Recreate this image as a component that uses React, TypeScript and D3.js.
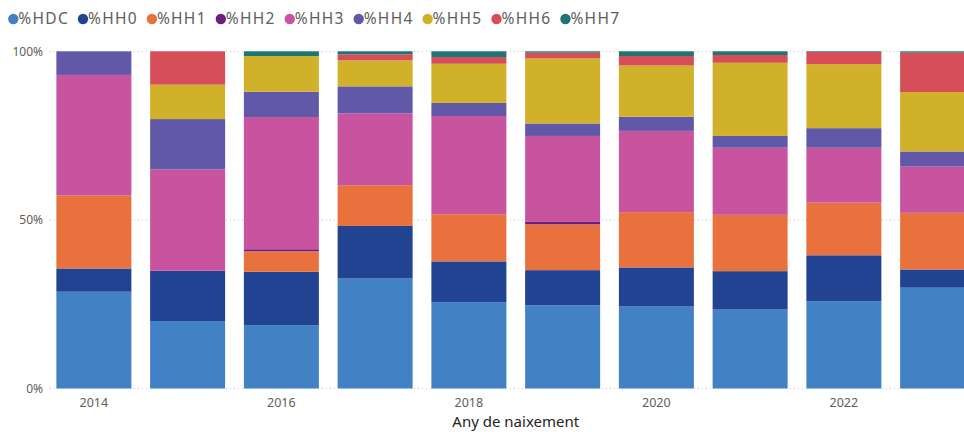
import React, { useEffect, useRef } from "react";
import * as d3 from "d3";

const years = ["2014", "2015", "2016", "2017", "2018", "2019", "2020", "2021", "2022", "2023"];
const seriesNames = ["%HDC", "%HH0", "%HH1", "%HH2", "%HH3", "%HH4", "%HH5", "%HH6", "%HH7"];
const seriesColors = ["#4181C4", "#214391", "#E8713E", "#6B1F7E", "#C8539E", "#6158A8", "#D1B02A", "#D54E58", "#1F7575"];

const HDC = [28.7, 20.0, 18.8, 32.6, 25.6, 24.7, 24.3, 23.4, 25.9, 29.9];
const HH0 = [6.9, 14.9, 15.8, 15.6, 12.1, 10.4, 11.6, 11.4, 13.6, 5.4];
const HH1 = [21.6, 0, 6.1, 12.1, 14.0, 13.6, 16.4, 16.7, 15.6, 16.8];
const HH2 = [0, 0, 0.6, 0, 0, 0.7, 0, 0, 0, 0];
const HH3 = [35.8, 30.1, 39.2, 21.3, 29.1, 25.5, 24.1, 19.9, 16.3, 13.7];
const HH4 = [7.0, 14.9, 7.5, 8.0, 3.9, 3.7, 4.2, 3.5, 5.8, 4.5];
const HH5 = [0, 10.2, 10.6, 7.7, 11.6, 19.3, 15.2, 21.7, 19.0, 17.6];
const HH6 = [0, 9.9, 0, 1.8, 2.0, 1.7, 2.8, 2.3, 3.6, 11.7];
const HH7 = [0, 0, 1.4, 0.9, 1.7, 0.4, 1.4, 1.1, 0.2, 0.4];

const yTicks = [0, 0.5, 1];
const xTickLabels = ["2014", "2016", "2018", "2020", "2022"];

const W = 964;
const H = 432;
const FONT = "'Segoe UI', 'Noto Sans', 'Open Sans', sans-serif";

export default function App() {
  const ref = useRef<SVGSVGElement>(null);

  useEffect(() => {
    const svg = d3.select(ref.current);
    svg.selectAll("*").remove();

    const values = [HDC, HH0, HH1, HH2, HH3, HH4, HH5, HH6, HH7];
    const table = years.map((y, i) => {
      const row: any = { year: y };
      let total = 0;
      seriesNames.forEach((s, k) => { total += values[k][i]; });
      seriesNames.forEach((s, k) => { row[s] = values[k][i] / total; });
      return row;
    });

    const stack = d3.stack<any>().keys(seriesNames);
    const stacked = stack(table);

    const x = d3.scaleBand<string>().domain(years).range([47, 984.5]).paddingInner(0.2).paddingOuter(0.1);
    const y = d3.scaleLinear().domain([0, 1]).range([388.5, 51.3]);

    // gridlines
    const grid = svg.append("g");
    yTicks.forEach((t) => {
      grid.append("line")
        .attr("x1", 50).attr("x2", W)
        .attr("y1", y(t)).attr("y2", y(t))
        .attr("stroke", "#C8C6C4").attr("stroke-width", 1)
        .attr("stroke-dasharray", "1,3");
    });

    // y labels
    svg.append("g").selectAll("text").data(yTicks).join("text")
      .attr("x", 43).attr("y", (d) => y(d))
      .attr("dy", "0.35em")
      .attr("text-anchor", "end")
      .attr("font-family", FONT).attr("font-size", 12)
      .attr("fill", "#605E5C")
      .text((d) => d3.format(".0%")(d));

    // bars
    const layers = svg.append("g").selectAll("g").data(stacked).join("g")
      .attr("fill", (d, i) => seriesColors[i]);
    layers.selectAll("rect").data((d) => d.filter((p) => p[1] - p[0] > 0)).join("rect")
      .attr("x", (d) => x(d.data.year)!)
      .attr("width", x.bandwidth())
      .attr("y", (d) => y(d[1]))
      .attr("height", (d) => y(d[0]) - y(d[1]));

    // x labels
    svg.append("g").selectAll("text").data(xTickLabels).join("text")
      .attr("x", (d) => x(d)! + x.bandwidth() / 2)
      .attr("y", 403)
      .attr("dy", "0.35em")
      .attr("text-anchor", "middle")
      .attr("font-family", FONT).attr("font-size", 12.5)
      .attr("fill", "#605E5C")
      .text((d) => d);

    svg.append("text")
      .attr("x", (x.range()[0] + x.range()[1]) / 2)
      .attr("y", 422)
      .attr("dy", "0.35em")
      .attr("text-anchor", "middle")
      .attr("font-family", FONT).attr("font-size", 15)
      .attr("fill", "#252423")
      .text("Any de naixement");

    // legend
    const leg = svg.append("g");
    let cx = 13.3;
    seriesNames.forEach((s, i) => {
      leg.append("circle").attr("cx", cx).attr("cy", 19).attr("r", 5.2).attr("fill", seriesColors[i]);
      const t = leg.append("text")
        .attr("x", cx + 5).attr("y", 19).attr("dy", "0.35em")
        .attr("font-family", FONT).attr("font-size", 15.5)
        .attr("letter-spacing", 1.3)
        .attr("fill", "#605E5C")
        .text(s);
      const w = (t.node() as SVGTextElement).getComputedTextLength();
      cx = cx + 5 + w + 14;
    });
  }, []);

  return (
    <svg ref={ref} width={W} height={H} style={{ display: "block", position: "absolute", left: 0, top: 0, overflow: "hidden" }} />
  );
}
